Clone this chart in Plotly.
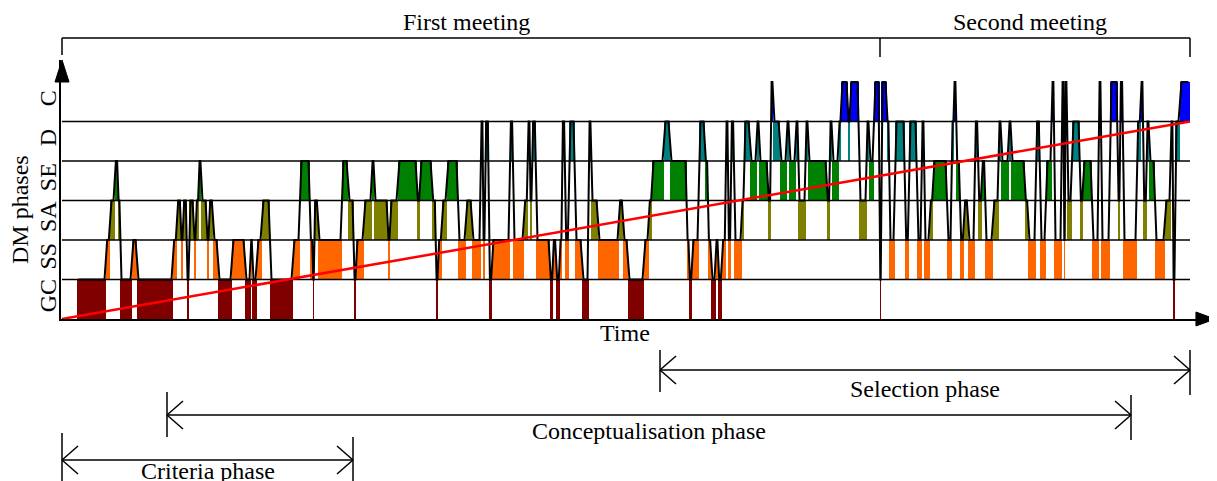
import plotly.graph_objects as go

# ---------------- data ----------------
phase_names = ["GC", "SS", "SA", "SE", "D", "C"]
phase_colors = ["#800000", "#ff6600", "#808000", "#008000", "#008080", "#0000ff"]

# start time of each episode (time units) and the DM phase of that episode
seg_start = [
    15, 44, 48, 53, 56, 58, 70, 75, 111, 115,
    119, 121, 125, 127, 132, 134, 137, 139, 145, 147,
    151, 156, 170, 183, 189, 190, 195, 200, 208, 231,
    238, 248, 251, 252, 256, 280, 286, 292, 294, 302,
    310, 312, 326, 328, 336, 355, 358, 370, 374, 376,
    380, 385, 396, 404, 410, 419, 421, 423, 427, 430,
    448, 451, 462, 466, 468, 470, 474, 488, 491, 494,
    498, 500, 503, 507, 513, 520, 527, 529, 536, 557,
    561, 566, 582, 587, 590, 602, 608, 625, 627, 630,
    637, 643, 646, 649, 654, 656, 660, 664, 666, 669,
    672, 680, 682, 688, 695, 697, 706, 709, 711, 718,
    725, 727, 734, 736, 744, 746, 765, 768, 770, 777,
    779, 786, 788, 797, 805, 807, 812, 818, 819, 825,
    827, 833, 843, 847, 855, 860, 862, 868, 871, 885,
    890, 892, 894, 898, 902, 906, 913, 916, 920, 923,
    931, 937, 939, 947, 949, 963, 966, 974, 978, 984,
    990, 992, 1000, 1002, 1003, 1005, 1010, 1018, 1021, 1030,
    1037, 1039, 1048, 1056, 1058, 1061, 1075, 1079, 1081, 1085,
    1087, 1093, 1103, 1109, 1111, 1113, 1118,
]
seg_phase = [
    "GC", "SS", "SA", "SE", "SA", "GC", "SS", "GC", "SS", "SA",
    "SS", "SA", "GC", "SA", "SS", "SA", "SE", "SA", "SS", "SA",
    "SS", "GC", "SS", "GC", "SS", "GC", "SS", "SA", "GC", "SS",
    "SE", "SS", "GC", "SA", "SS", "SE", "SA", "GC", "SS", "SA",
    "SE", "SA", "SS", "SA", "SE", "SA", "SE", "SA", "GC", "SS",
    "SA", "SE", "SS", "SA", "SS", "D", "SS", "D", "GC", "SS",
    "D", "SS", "SA", "D", "SA", "D", "SS", "GC", "SS", "GC",
    "SS", "D", "SS", "D", "SS", "GC", "D", "SA", "SS", "SA",
    "SS", "GC", "SS", "SA", "SE", "D", "SE", "SS", "GC", "SS",
    "D", "SE", "SS", "GC", "SS", "GC", "SS", "D", "SS", "D",
    "SS", "SA", "D", "SE", "D", "SE", "SA", "C", "D", "SE",
    "D", "SE", "D", "SA", "D", "SE", "SA", "D", "SE", "D",
    "C", "D", "C", "SA", "D", "SE", "C", "GC", "C", "D",
    "SS", "D", "SS", "D", "SS", "D", "SS", "SA", "SE", "SS",
    "D", "C", "SE", "SS", "SA", "SS", "D", "SA", "SE", "SS",
    "SA", "D", "SE", "D", "SE", "SA", "SS", "D", "SS", "SE",
    "C", "SS", "C", "SS", "C", "SA", "D", "SA", "SE", "SS",
    "C", "SS", "C", "SA", "C", "SS", "D", "C", "SA", "D",
    "SE", "SS", "SA", "D", "GC", "D", "C",
]
t_end = 1128

trend_t = [0, 1128]
trend_level = [0, 5]

meetings = [("First meeting", 0, 818), ("Second meeting", 818, 1128)]
dm_periods = [("Selection phase", 598, 1128),
              ("Conceptualisation phase", 105, 1069),
              ("Criteria phase", 0, 291)]

# ---------------- derived ----------------
seg_end = seg_start[1:] + [t_end]
seg_level = [phase_names.index(p) + 1 for p in seg_phase]

FONT = dict(family="Liberation Serif, Times New Roman, serif", size=24, color="black")
X_MIN, X_MAX = -1, 1153
Y_MAX = 6.557
PAGE_OFF = 8  # default body margin of the html page


def py(p):
    # page pixel row -> paper y (plot spans page rows 60..319)
    return (319 - p) / 259.0


fig = go.Figure()

# coloured fills: one bar per episode, spanning the band of its phase
for k, name in enumerate(phase_names):
    idx = [i for i, p in enumerate(seg_phase) if p == name]
    fig.add_trace(go.Bar(
        x=[(seg_start[i] + seg_end[i]) / 2 for i in idx],
        width=[seg_end[i] - seg_start[i] for i in idx],
        y=[1] * len(idx),
        base=[k] * len(idx),
        marker=dict(color=phase_colors[k], line=dict(width=0)),
        showlegend=False, hoverinfo="skip",
    ))

# band separator lines
bx, by = [], []
for lvl in range(1, 6):
    bx += [0, t_end, None]
    by += [lvl, lvl, None]
fig.add_trace(go.Scatter(x=bx, y=by, mode="lines",
                         line=dict(color="black", width=1.5),
                         showlegend=False, hoverinfo="skip"))

# black phase trajectory
lx, ly = [], []
for a, b, lvl in zip(seg_start, seg_end, seg_level):
    r = min(1.5, 0.3 * (b - a))
    lx += [a + r, b - r]
    ly += [lvl, lvl]
fig.add_trace(go.Scatter(x=lx, y=ly, mode="lines",
                         line=dict(color="black", width=2),
                         showlegend=False, hoverinfo="skip"))

# red trend line
fig.add_trace(go.Scatter(x=trend_t, y=trend_level, mode="lines",
                         line=dict(color="#ff0000", width=2.5),
                         showlegend=False, hoverinfo="skip"))

shapes = []
annotations = []
LINE = dict(color="black", width=1.5)

# meetings bracket on top
y_top = py(38)
shapes.append(dict(type="line", xref="x", yref="paper", x0=meetings[0][1], x1=meetings[-1][2],
                   y0=y_top, y1=y_top, line=LINE))
shapes.append(dict(type="line", xref="x", yref="paper", x0=meetings[0][1], x1=meetings[0][1],
                   y0=y_top, y1=py(55), line=LINE))
for name, a, b in meetings:
    shapes.append(dict(type="line", xref="x", yref="paper", x0=b, x1=b,
                       y0=y_top, y1=py(57), line=LINE))
    annotations.append(dict(text=name, xref="x", yref="paper", x=(a + b) / 2 - 5, y=py(22),
                            showarrow=False, font=FONT, xanchor="center", yanchor="middle"))

# phase brackets below
bracket_rows = [  # arrow row, left tick rows, right tick rows, text row
    (370, (350, 392), (350, 395), 389),
    (415, (392, 437), (395, 440), 431),
    (460, (433, 481), (437, 481), 471),
]
DX, DY = 16, 14
for (name, a, b), (ar, lt, rt, tr) in zip(dm_periods, bracket_rows):
    ya = py(ar)
    shapes.append(dict(type="line", xref="x", yref="paper", x0=a, x1=b, y0=ya, y1=ya, line=LINE))
    shapes.append(dict(type="line", xref="x", yref="paper", x0=a, x1=a, y0=py(lt[0]), y1=py(lt[1]), line=LINE))
    shapes.append(dict(type="line", xref="x", yref="paper", x0=b, x1=b, y0=py(rt[0]), y1=py(rt[1]), line=LINE))
    for sgn in (1, -1):
        shapes.append(dict(type="line", xref="x", yref="paper", x0=a, x1=a + DX,
                           y0=ya, y1=py(ar + sgn * DY), line=LINE))
        shapes.append(dict(type="line", xref="x", yref="paper", x0=b, x1=b - DX,
                           y0=ya, y1=py(ar + sgn * DY), line=LINE))
    annotations.append(dict(text=name, xref="x", yref="paper", x=(a + b) / 2, y=py(tr),
                            showarrow=False, font=FONT, xanchor="center", yanchor="middle"))

# axis arrowheads
shapes.append(dict(type="path", xref="paper", yref="paper",
                   path="M 1.0,0 L 0.9835,0.027 L 0.9835,-0.027 Z",
                   fillcolor="black", line=dict(color="black", width=1)))
shapes.append(dict(type="path", xref="paper", yref="paper",
                   path="M 0.0009,1.0 L 0.0070,0.915 L -0.0052,0.915 Z",
                   fillcolor="black", line=dict(color="black", width=1)))

annotations.append(dict(text="Time", xref="x", yref="paper", x=563, y=py(333),
                        showarrow=False, font=FONT, xanchor="center", yanchor="middle"))
annotations.append(dict(text="DM phases", xref="paper", yref="paper", x=(20 - 61) / 1154.0, y=py(210),
                        showarrow=False, font=FONT, textangle=-90,
                        xanchor="center", yanchor="middle"))

fig.update_layout(
    width=1217 - PAGE_OFF, height=481 - PAGE_OFF,
    margin=dict(l=61 - PAGE_OFF, r=2, t=60 - PAGE_OFF, b=162, pad=0),
    plot_bgcolor="white", paper_bgcolor="white",
    barmode="overlay", bargap=0,
    showlegend=False,
    shapes=shapes, annotations=annotations,
    xaxis=dict(range=[X_MIN, X_MAX], showgrid=False, zeroline=False,
               showticklabels=False, ticks="", showline=True,
               linecolor="black", linewidth=1.5, fixedrange=True),
    yaxis=dict(range=[0, Y_MAX], showgrid=False, zeroline=False,
               tickvals=[0.5, 1.5, 2.5, 3.5, 4.5, 5.5], ticktext=phase_names,
               tickangle=-90, tickfont=FONT, ticks="", ticklabelstandoff=-6,
               showline=True, linecolor="black", linewidth=1.5, fixedrange=True),
)

fig.write_html("out.html")
